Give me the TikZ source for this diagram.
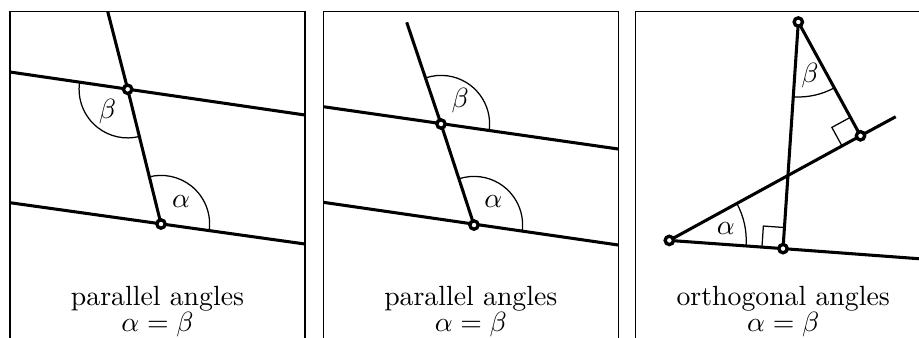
\documentclass[tikz,border=0pt]{standalone}
\usepackage{tikz}
\usetikzlibrary{angles,quotes}
\tikzset{
  frame/.style={draw,line width=0.45pt},
  ray/.style={line width=1.1pt},
  pt/.style={circle,draw,fill=white,line width=1.2pt,inner sep=0pt,minimum size=3pt},
  ang/.style={draw,line width=0.45pt,angle radius=17.5pt,angle eccentricity=0.62},
  rang/.style={draw,line width=0.45pt,angle radius=7.6pt},
  caption/.style={anchor=base,inner sep=0pt}
}

\begin{document}
\begin{tikzpicture}[x=0.36pt,y=-0.36pt]
  \useasboundingbox (0,0) rectangle (919,337);
  \clip (0,0) rectangle (919,337);

  % frames, open at the bottom
  \draw[frame] (10,350) -- (10,11.5) -- (305,11.5) -- (305,350);
  \draw[frame] (323.3,350) -- (323.3,11.5) -- (618.3,11.5) -- (618.3,350);
  \draw[frame] (635.7,350) -- (635.7,11.5) -- (930.7,11.5) -- (930.7,350);

  % parallel angles, first panel
  \coordinate (ul1) at (10,72);
  \coordinate (ur1) at (305,115);
  \coordinate (ll1) at (10,202.7);
  \coordinate (lr1) at (305,244);
  \coordinate (t1) at (107.7,11.5);
  \coordinate (a1) at (127.7,89.3);
  \coordinate (b1) at (161,224);
  \draw[ray] (ul1) -- (ur1);
  \draw[ray] (ll1) -- (lr1);
  \draw[ray] (t1) -- (a1) -- (b1);
  \pic[ang,"$\beta$"] {angle=ul1--a1--b1};
  \pic[ang,"$\alpha$"] {angle=lr1--b1--a1};
  \node[pt] (pa1) at (a1) {};
  \node[pt] (pb1) at (b1) {};
  \node[caption] (cap1) at (157.5,305) {parallel angles};
  \node[caption] (eq1) at (157.5,331.7) {$\alpha=\beta$};

  % parallel angles, second panel
  \coordinate (ul2) at (323.3,106.7);
  \coordinate (ur2) at (618.3,149);
  \coordinate (ll2) at (323.3,202.3);
  \coordinate (lr2) at (618.3,245);
  \coordinate (t2) at (406.7,22.3);
  \coordinate (a2) at (441,124);
  \coordinate (b2) at (474,225);
  \draw[ray] (ul2) -- (ur2);
  \draw[ray] (ll2) -- (lr2);
  \draw[ray] (t2) -- (a2) -- (b2);
  \pic[ang,"$\beta$"] {angle=ur2--a2--t2};
  \pic[ang,"$\alpha$"] {angle=lr2--b2--a2};
  \node[pt] (pa2) at (a2) {};
  \node[pt] (pb2) at (b2) {};
  \node[caption] (cap2) at (470.8,305) {parallel angles};
  \node[caption] (eq2) at (470.8,331.7) {$\alpha=\beta$};

  % orthogonal angles
  \coordinate (p) at (669.3,240.4);
  \coordinate (q) at (783,248.6);
  \coordinate (r) at (798.3,22);
  \coordinate (s) at (860.5,135.8);
  \coordinate (se) at (895.7,116.7);
  \coordinate (qe) at (931,259.6);
  \draw[ray] (p) -- (q) -- (qe);
  \draw[ray] (p) -- (s) -- (se);
  \draw[ray] (r) -- (q);
  \draw[ray] (r) -- (s);
  \pic[ang,angle radius=27.7pt,angle eccentricity=0.75,"$\alpha$"] {angle=q--p--s};
  \pic[ang,angle radius=27pt,angle eccentricity=0.73,"$\beta$"] {angle=q--r--s};
  \pic[rang] {right angle=r--q--p};
  \pic[rang] {right angle=r--s--p};
  \node[pt] (pp) at (p) {};
  \node[pt] (pq) at (q) {};
  \node[pt] (pr) at (r) {};
  \node[pt] (ps) at (s) {};
  \node[caption] (cap3) at (783.2,305) {orthogonal angles};
  \node[caption] (eq3) at (783.2,331.7) {$\alpha=\beta$};
\end{tikzpicture}
\end{document}
